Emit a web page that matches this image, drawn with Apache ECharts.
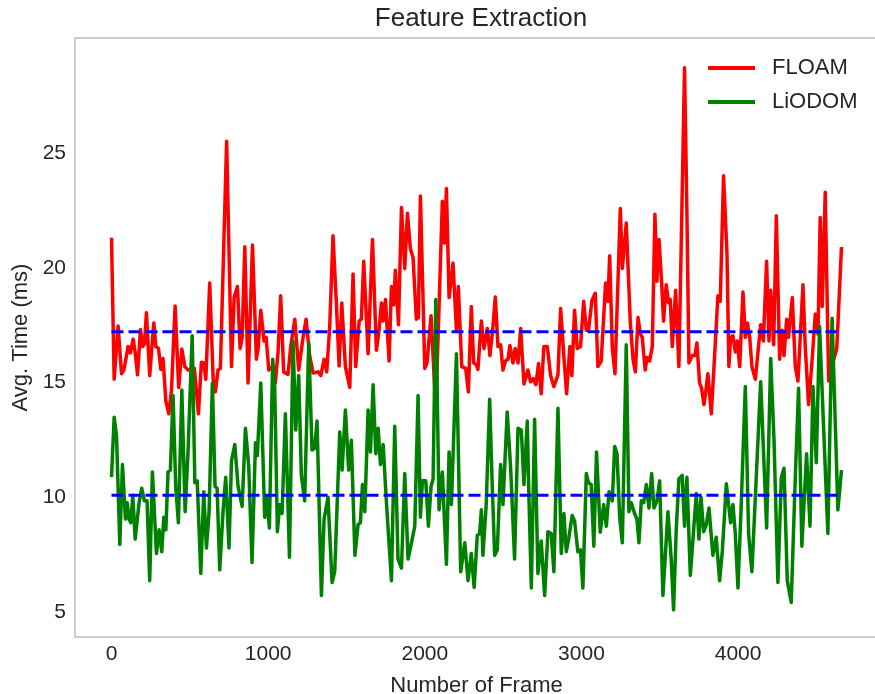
<!DOCTYPE html>
<html>
<head>
<meta charset="utf-8">
<script src="https://cdn.jsdelivr.net/npm/echarts@6.0.0/dist/echarts.min.js"></script>
<style>
    html, body { margin: 0; padding: 0; background: #fff; }
    #chart { width: 875px; height: 694px; }
</style>
</head>
<body>
<div id="chart"></div>
<script>
// values (frame index, ms)
var floamFrames = [0, 17, 42, 64, 79, 106, 121, 138, 151, 166, 185, 198, 210, 223, 244, 270, 283, 300, 315, 329,
    347, 366, 383, 406, 429, 449, 468, 489, 529, 555, 574, 589, 602, 627, 649, 663, 680, 695, 735, 766,
    783, 804, 821, 834, 851, 872, 900, 925, 936, 953, 974, 987, 1004, 1025, 1046, 1063, 1080, 1099, 1127, 1144,
    1170, 1195, 1223, 1242, 1265, 1287, 1319, 1336, 1357, 1374, 1393, 1414, 1436, 1453, 1470, 1493, 1521, 1542, 1559, 1581,
    1595, 1610, 1638, 1666, 1691, 1708, 1723, 1734, 1749, 1772, 1787, 1802, 1812, 1832, 1851, 1872, 1889, 1908, 1925, 1946,
    1959, 1972, 2000, 2014, 2040, 2070, 2100, 2112, 2125, 2138, 2155, 2180, 2202, 2214, 2236, 2261, 2278, 2297, 2312, 2329,
    2339, 2361, 2378, 2399, 2416, 2435, 2450, 2467, 2484, 2499, 2514, 2531, 2543, 2563, 2577, 2595, 2612, 2633, 2658, 2675,
    2692, 2709, 2726, 2743, 2760, 2782, 2803, 2824, 2850, 2867, 2888, 2905, 2926, 2939, 2956, 2973, 2994, 3014, 3031, 3045,
    3067, 3088, 3105, 3126, 3154, 3169, 3180, 3197, 3214, 3248, 3261, 3286, 3312, 3329, 3344, 3361, 3376, 3388, 3407, 3418,
    3435, 3452, 3469, 3482, 3495, 3512, 3524, 3541, 3556, 3567, 3580, 3601, 3622, 3641, 3658, 3673, 3686, 3707, 3724, 3737,
    3754, 3767, 3782, 3792, 3807, 3829, 3850, 3871, 3886, 3907, 3929, 3941, 3952, 3967, 3982, 3995, 4010, 4031, 4046, 4059,
    4074, 4088, 4110, 4127, 4144, 4161, 4182, 4197, 4208, 4227, 4244, 4265, 4280, 4293, 4310, 4322, 4346, 4365, 4382, 4414,
    4429, 4450, 4471, 4493, 4510, 4524, 4537, 4556, 4578, 4610, 4630, 4660];
var floamTimes = [21.3, 15.15, 17.47, 15.39, 15.55, 16.57, 16.30, 16.89, 16.34, 15.34, 17.31, 16.57, 16.68, 18.04, 15.31, 17.60, 16.57, 16.49, 15.58, 16.05,
    14.20, 13.65, 14.68, 18.34, 14.79, 16.46, 15.70, 15.55, 15.62, 13.65, 15.89, 15.86, 15.15, 19.33, 15.15, 14.60, 15.55, 15.62, 25.5, 15.70,
    18.70, 19.18, 16.49, 16.97, 20.91, 14.99, 20.99, 16.02, 16.49, 18.15, 16.81, 16.97, 15.55, 15.70, 14.99, 16.33, 18.78, 15.47, 15.36, 16.57,
    17.76, 15.55, 16.97, 17.76, 16.18, 15.42, 15.47, 15.31, 16.02, 15.47, 17.44, 21.39, 18.39, 15.73, 18.47, 15.70, 14.79, 19.73, 15.70, 17.68,
    17.76, 20.28, 16.26, 21.23, 16.41, 17.28, 18.47, 17.68, 18.62, 15.94, 19.18, 18.39, 19.89, 17.52, 22.62, 19.97, 22.37, 20.83, 20.44, 17.76,
    17.83, 23.12, 15.62, 15.86, 17.91, 13.8, 20.28, 22.89, 21.07, 23.44, 18.70, 20.20, 17.28, 19.18, 15.70, 15.62, 14.60, 18.31, 15.86, 15.78,
    15.58, 17.68, 16.49, 17.36, 16.18, 17.44, 18.73, 16.57, 16.65, 15.55, 15.94, 16.02, 16.62, 15.86, 16.49, 15.86, 17.36, 14.94, 15.55, 15.04,
    15.18, 14.91, 15.83, 14.52, 16.57, 16.57, 15.31, 14.83, 15.34, 18.23, 16.10, 14.52, 16.57, 15.31, 18.15, 16.49, 16.57, 18.54, 17.28, 17.28,
    18.58, 18.89, 15.70, 15.94, 19.33, 18.54, 20.52, 16.49, 15.39, 22.57, 19.97, 21.94, 17.60, 16.02, 15.47, 17.83, 17.12, 16.97, 15.55, 16.10,
    15.94, 16.57, 22.33, 19.41, 21.23, 19.33, 17.68, 19.26, 18.47, 18.62, 16.57, 19.02, 15.70, 22.49, 28.7, 22.49, 15.86, 16.18, 16.18, 16.73,
    14.99, 14.76, 14.05, 14.52, 15.39, 13.65, 16.18, 18.78, 18.54, 24.0, 20.60, 15.70, 16.97, 17.04, 16.34, 16.81, 15.70, 18.94, 16.97, 17.60,
    16.97, 15.70, 15.15, 16.34, 17.52, 16.81, 20.28, 16.81, 19.02, 16.65, 22.26, 16.02, 17.28, 16.18, 17.76, 16.97, 18.70, 15.70, 15.07, 19.26,
    16.49, 14.05, 15.86, 17.99, 17.12, 22.18, 18.31, 23.28, 15.07, 16.0, 16.5, 20.9];

var liodomFrames = [0, 17, 32, 53, 70, 89, 100, 112, 123, 136, 151, 176, 193, 210, 227, 244, 261, 287, 304, 321,
    334, 347, 361, 376, 393, 410, 427, 449, 470, 489, 515, 532, 547, 570, 589, 606, 623, 644, 661, 674,
    691, 712, 729, 750, 766, 787, 808, 819, 834, 855, 876, 897, 919, 931, 953, 978, 991, 1008, 1029, 1042,
    1059, 1074, 1089, 1110, 1136, 1159, 1176, 1195, 1212, 1233, 1259, 1280, 1297, 1312, 1340, 1357, 1382, 1408, 1425, 1457,
    1472, 1493, 1514, 1531, 1554, 1574, 1589, 1602, 1617, 1638, 1653, 1670, 1687, 1702, 1717, 1734, 1755, 1787, 1808, 1829,
    1851, 1872, 1893, 1908, 1936, 1957, 1972, 1985, 2006, 2023, 2040, 2053, 2070, 2091, 2112, 2138, 2155, 2170, 2202, 2229,
    2255, 2276, 2297, 2315, 2335, 2350, 2361, 2371, 2392, 2414, 2429, 2446, 2463, 2484, 2499, 2509, 2526, 2548, 2573, 2595,
    2616, 2633, 2654, 2663, 2680, 2701, 2722, 2743, 2765, 2786, 2807, 2824, 2850, 2871, 2888, 2903, 2920, 2941, 2956, 2977,
    2994, 3009, 3031, 3045, 3062, 3079, 3096, 3120, 3142, 3159, 3176, 3197, 3212, 3227, 3244, 3261, 3286, 3303, 3318, 3339,
    3354, 3367, 3382, 3397, 3414, 3431, 3448, 3463, 3482, 3499, 3520, 3552, 3573, 3588, 3605, 3622, 3643, 3658, 3673, 3695,
    3733, 3750, 3763, 3780, 3797, 3814, 3839, 3860, 3882, 3899, 3925, 3952, 3967, 3982, 3999, 4020, 4046, 4067, 4088, 4144,
    4182, 4208, 4229, 4254, 4276, 4293, 4314, 4339, 4365, 4386, 4407, 4437, 4459, 4478, 4499, 4520, 4552, 4573, 4600, 4637,
    4660];
var liodomTimes = [10.9, 13.5, 12.70, 7.97, 11.44, 9.07, 9.78, 9.07, 8.91, 10.10, 8.20, 9.78, 10.41, 9.86, 9.86, 6.39, 11.12, 7.57, 8.60, 7.65,
    9.15, 8.60, 11.12, 11.20, 14.44, 10.49, 8.91, 14.68, 9.39, 12.07, 17.04, 10.65, 10.73, 6.70, 10.26, 7.81, 9.39, 14.99, 10.49, 10.41,
    6.86, 9.39, 10.89, 7.81, 11.60, 12.31, 10.49, 10.41, 9.62, 13.02, 11.36, 7.18, 12.39, 11.83, 14.99, 9.15, 10.02, 8.68, 16.02, 14.76,
    8.52, 9.70, 9.31, 13.65, 7.41, 16.81, 12.94, 15.31, 10.97, 9.86, 16.73, 12.07, 12.15, 13.33, 5.75, 9.07, 10.02, 6.31, 6.78, 12.86,
    11.20, 13.81, 11.20, 12.5, 7.49, 8.83, 8.91, 10.57, 9.39, 13.81, 11.99, 14.91, 11.91, 13.02, 11.44, 12.31, 9.8, 6.39, 13.10, 7.33,
    6.94, 11.05, 7.33, 7.81, 8.76, 14.44, 9.15, 10.73, 10.73, 8.76, 10.49, 10.81, 18.62, 9.47, 11.12, 7.10, 11.99, 9.70, 16.26, 6.78,
    8.04, 6.39, 7.57, 6.1, 8.36, 8.44, 9.47, 7.49, 9.70, 14.28, 10.81, 7.49, 7.73, 11.44, 9.70, 9.78, 13.73, 11.28, 7.33, 13.02,
    12.94, 10.57, 13.33, 10.49, 6.07, 13.41, 6.70, 8.12, 5.75, 8.52, 8.44, 6.78, 13.89, 7.57, 9.31, 7.65, 8.28, 9.23, 8.99, 7.65,
    7.73, 6.07, 11.05, 10.65, 10.57, 7.89, 11.99, 8.5, 9.7, 8.76, 10.26, 9.86, 12.23, 11.91, 9.15, 8.04, 16.65, 9.39, 9.78, 9.31,
    9.07, 8.04, 9.86, 9.78, 10.57, 9.55, 11.05, 9.55, 9.86, 10.73, 5.75, 9.39, 7.33, 5.12, 8.60, 10.81, 10.97, 8.76, 10.89, 6.62,
    10.18, 8.20, 10.02, 8.52, 8.83, 9.55, 7.49, 8.28, 6.39, 7.65, 10.6, 8.91, 9.70, 8.44, 6.07, 9.70, 14.83, 8.44, 6.78, 15.04,
    8.68, 16.05, 12.55, 6.31, 10.89, 11.28, 6.39, 5.44, 10.89, 14.76, 7.89, 11.91, 8.76, 14.83, 11.52, 17.44, 11.99, 8.44, 17.8, 9.47,
    11.2];

// average lines
var meanFrames = [0, 4660];
var floamMean = 17.22;
var liodomMean = 10.1;

var xTicks = [0, 1000, 2000, 3000, 4000];
var yTicks = [5, 10, 15, 20, 25];

function zip(xs, ys) {
    var out = [];
    for (var i = 0; i < xs.length; i++) {
        out.push([xs[i], ys[i]]);
    }
    return out;
}

var font = 'Liberation Sans';
var ink = '#262626';

var chart = echarts.init(document.getElementById('chart'));
chart.setOption({
    animation: false,
    backgroundColor: '#fff',
    title: {
        text: 'Feature Extraction',
        left: 476,
        textAlign: 'center',
        top: 1,
        textStyle: { fontFamily: font, fontSize: 26, fontWeight: 'normal', color: ink }
    },
    legend: {
        data: ['FLOAM', 'LiODOM'],
        orient: 'vertical',
        left: 708,
        top: 56,
        padding: 0,
        itemGap: 10,
        itemWidth: 47,
        itemHeight: 4,
        icon: 'rect',
        textStyle: { fontFamily: font, fontSize: 22, color: ink, lineHeight: 24, padding: [0, 0, 0, 12] }
    },
    grid: {
        left: 75,
        right: -3,
        top: 38,
        bottom: 57,
        outerBoundsMode: 'none',
        containLabel: false,
        show: true,
        borderColor: '#cccccc',
        borderWidth: 2
    },
    xAxis: {
        type: 'value',
        min: -233,
        max: 4893,
        name: 'Number of Frame',
        nameLocation: 'middle',
        nameGap: 38,
        nameTextStyle: { fontFamily: font, fontSize: 22, color: ink },
        axisLine: { show: false },
        axisTick: { show: false },
        splitLine: { show: false },
        axisLabel: {
            customValues: xTicks,
            formatter: function (v) { return String(v); },
            margin: 7,
            fontFamily: font,
            fontSize: 21,
            color: ink
        }
    },
    yAxis: {
        type: 'value',
        min: 3.94,
        max: 29.99,
        name: 'Avg. Time (ms)',
        nameLocation: 'middle',
        nameGap: 42,
        nameTextStyle: { fontFamily: font, fontSize: 22, color: ink },
        axisLine: { show: false },
        axisTick: { show: false },
        splitLine: { show: false },
        axisLabel: {
            customValues: yTicks,
            margin: 9,
            fontFamily: font,
            fontSize: 21,
            color: ink
        }
    },
    series: [{
        name: 'FLOAM',
        type: 'line',
        symbol: 'none',
        color: '#ff0000',
        lineStyle: { width: 3.5, color: '#ff0000', join: 'round' },
        data: zip(floamFrames, floamTimes)
    }, {
        name: 'LiODOM',
        type: 'line',
        symbol: 'none',
        color: '#008000',
        lineStyle: { width: 3.5, color: '#008000', join: 'round' },
        data: zip(liodomFrames, liodomTimes)
    }, {
        name: 'FLOAM avg',
        type: 'line',
        symbol: 'none',
        z: 5,
        lineStyle: { width: 3, color: '#0000ff', type: [12, 5] },
        data: zip(meanFrames, [floamMean, floamMean])
    }, {
        name: 'LiODOM avg',
        type: 'line',
        symbol: 'none',
        z: 5,
        lineStyle: { width: 3, color: '#0000ff', type: [12, 5] },
        data: zip(meanFrames, [liodomMean, liodomMean])
    }]
});
</script>
</body>
</html>
